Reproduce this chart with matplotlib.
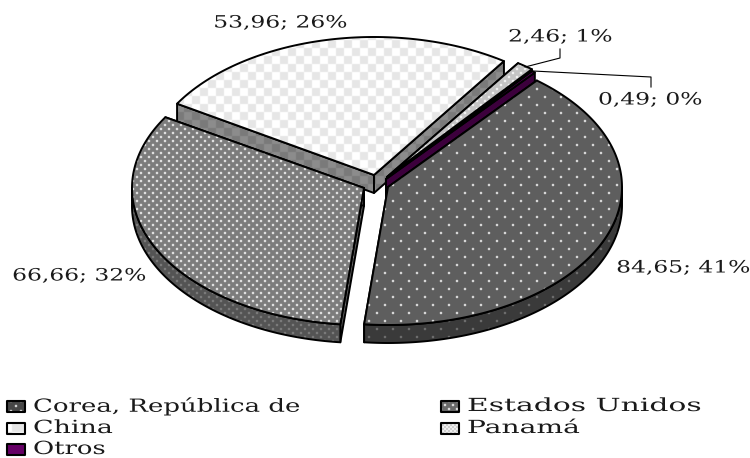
#!/usr/bin/env python3
# -*- coding: utf-8 -*-
import numpy as np
import matplotlib
matplotlib.use("Agg")
import matplotlib.pyplot as plt
from matplotlib.patches import Polygon
from matplotlib.patheffects import AbstractPathEffect
from matplotlib.transforms import Affine2D

## Data ##
names = ["Corea, República de", "Estados Unidos", "China", "Panamá", "Otros"]
values = [84.65, 66.66, 53.96, 2.46, 0.49]
labels = ["84,65; 41%", "66,66; 32%", "53,96; 26%", "2,46; 1%", "0,49; 0%"]
## Data ##

W, H = 750, 458
START_ANGLE = 39.5   # clockwise from the top of the ellipse
DEPTH = 18

# Exploded centres and radii of each slice, in pixels.
geom = [(388, 187, 234, 138),
        (364, 188, 232, 137),
        (374, 175, 230, 138),
        (387, 177, 232, 138),
        (386, 179, 234, 138)]

yy, xx = np.mgrid[0:H, 0:W]


def soften(img):
    """Small box blur, the dots in the original are not crisp."""
    out = img * 4.
    for ax_n in (0, 1):
        out += np.roll(img, 1, axis=ax_n) + np.roll(img, -1, axis=ax_n)
    return out / 8.


def dots(base, dot, step):
    """Staggered dot fill, like the old office pattern fills."""
    img = np.ones((H, W, 3)) * np.array(base) / 255.
    half = step // 2
    mask = ((xx % step < 2) & (yy % step < 2)) | (((xx + half) % step < 2) & ((yy + half) % step < 2))
    img[mask] = np.array(dot) / 255.
    return soften(img)


def checks(c1, c2, step):
    img = np.ones((H, W, 3)) * np.array(c1) / 255.
    mask = ((xx // step + yy // step) % 2) == 0
    img[mask] = np.array(c2) / 255.
    return soften(img)


def flat(col):
    return np.ones((H, W, 3)) * np.array(col) / 255.


class Stretch(AbstractPathEffect):
    """Widen text around its anchor, the original face is a very wide serif."""

    def __init__(self, x0, sx):
        super().__init__()
        self.x0 = x0
        self.sx = sx

    def draw_path(self, renderer, gc, tpath, affine, rgbFace=None):
        wide = Affine2D().translate(-self.x0, 0).scale(self.sx, 1).translate(self.x0, 0)
        renderer.draw_path(gc, tpath, affine + wide, rgbFace)


top_fill = [dots((94, 94, 94), (255, 255, 255), 16),
            dots((124, 124, 124), (255, 255, 255), 8),
            checks((255, 255, 255), (230, 230, 230), 8),
            dots((196, 196, 196), (255, 255, 255), 8),
            flat((102, 0, 102))]
side_fill = [dots((58, 58, 58), (125, 125, 125), 16),
             dots((84, 84, 84), (135, 135, 135), 8),
             checks((140, 140, 140), (122, 122, 122), 8),
             dots((140, 140, 140), (185, 185, 185), 8),
             flat((60, 0, 60))]
legend_fill = [dots((70, 70, 70), (255, 255, 255), 10),
               dots((105, 105, 105), (255, 255, 255), 8),
               checks((255, 255, 255), (230, 230, 230), 12),
               dots((190, 190, 190), (255, 255, 255), 4),
               flat((102, 0, 102))]

fig = plt.figure(figsize=(W / 100., H / 100.), dpi=100)
ax = fig.add_axes([0, 0, 1, 1])
ax.set_xlim(0, W)
ax.set_ylim(H, 0)
ax.axis("off")


def paint(pts, img, lw=1.4, z=1):
    """Fill a polygon with a pattern image and outline it."""
    im = ax.imshow(img, extent=[0, W, H, 0], interpolation="nearest", zorder=z, aspect="auto")
    outline = Polygon(pts, closed=True, fc="none", ec="black", lw=lw, zorder=z, joinstyle="round")
    ax.add_patch(outline)
    im.set_clip_path(outline)


def rim(i, t0, t1):
    cx, cy, rx, ry = geom[i]
    th = np.radians(np.linspace(t0, t1, max(int(abs(t1 - t0)) * 2, 2)))
    return np.column_stack([cx + rx * np.sin(th), cy - ry * np.cos(th)])


def draw_slice(i, t0, t1, z):
    cx, cy = geom[i][:2]
    apex = np.array([cx, cy])
    drop = np.array([0, DEPTH])
    edge = rim(i, t0, t1)
    # radial cut faces first, the top face hides the ones facing away
    for p in (edge[0], edge[-1]):
        paint(np.array([apex, p, p + drop, apex + drop]), side_fill[i], z=z)
    # outer wall, only the front half of the ellipse shows
    lo = max(t0, 90)
    hi = min(t1, 270)
    if hi > lo:
        wall = rim(i, lo, hi)
        paint(np.vstack([wall, wall[::-1] + drop]), side_fill[i], z=z)
    paint(np.vstack([apex, edge]), top_fill[i], z=z)


def put_text(x, y, s, size, sx, ha):
    t = ax.text(x, y, s, ha=ha, va="center", fontsize=size, family="DejaVu Serif",
                color="#1a1a1a", zorder=10)
    t.set_path_effects([Stretch(x, sx)])


# slice angles come straight from the values
spans = np.array(values) / sum(values) * 360.
ends = START_ANGLE + np.cumsum(spans)
starts = ends - spans

# back to front
z = 1
for i in (2, 3, 4, 1, 0):
    draw_slice(i, starts[i], ends[i], z)
    z += 1

# data labels
put_text(683, 268, labels[0], 12.2, 1.38, "center")
put_text(79, 276, labels[1], 12.2, 1.38, "center")
put_text(280, 23, labels[2], 12.2, 1.38, "center")
put_text(560, 37, labels[3], 12.2, 1.38, "center")
put_text(650, 100, labels[4], 12.2, 1.38, "center")

# leader lines
ax.plot([525, 560, 560], [67, 58, 49], color="black", lw=0.8, zorder=9)
ax.plot([533, 651, 651], [71, 77, 87], color="black", lw=0.8, zorder=9)

# legend, two columns filled row by row
leg_x = [7, 441]
leg_text_x = [33, 467]
leg_y = [406, 428, 449]
leg_stretch = [1.44, 1.65, 1.49, 1.56, 1.43]
for n, name in enumerate(names):
    x = leg_x[n % 2]
    y = leg_y[n // 2]
    sq = np.array([[x, y - 5.5], [x + 18, y - 5.5], [x + 18, y + 5.5], [x, y + 5.5]])
    paint(sq, legend_fill[n], lw=1.5, z=8)
    put_text(leg_text_x[n % 2], y, name, 13, leg_stretch[n], "left")

ax.set_xlim(0, W)
ax.set_ylim(H, 0)
fig.savefig("out.png", dpi=100)
